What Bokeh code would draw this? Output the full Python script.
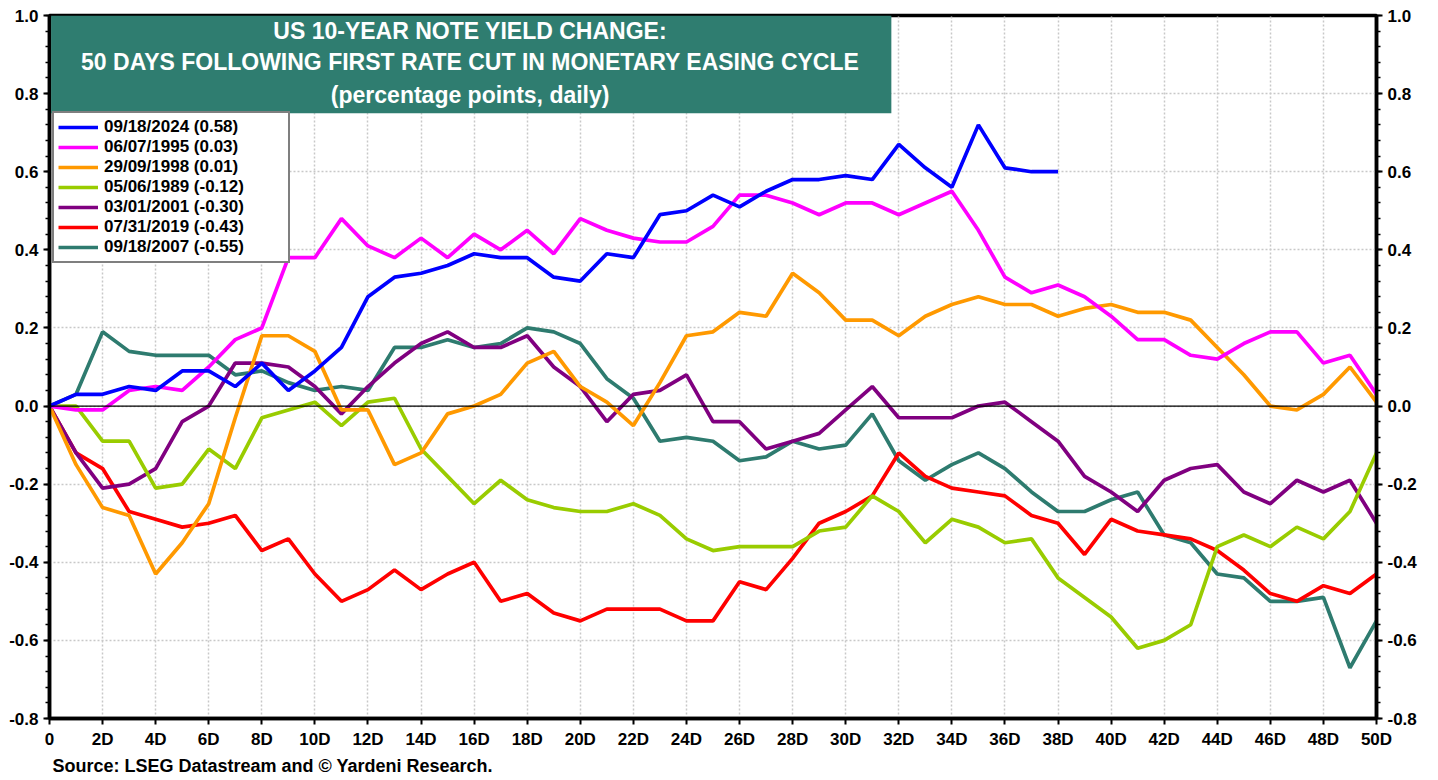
from bokeh.plotting import figure
from bokeh.models import (LinearAxis, SingleIntervalTicker, FixedTicker, NumeralTickFormatter,
                          Legend, LegendItem, BoxAnnotation, Label, Span, Range1d, Title)
from bokeh.embed import file_html
from bokeh.resources import INLINE

days = list(range(51))
x_tick_labels = {d: ("0" if d == 0 else f"{d}D") for d in range(0, 51, 2)}

names = ["09/18/2024 (0.58)", "06/07/1995 (0.03)", "29/09/1998 (0.01)", "05/06/1989 (-0.12)",
         "03/01/2001 (-0.30)", "07/31/2019 (-0.43)", "09/18/2007 (-0.55)"]
colors = ["#0000FF", "#FF00FF", "#FF9900", "#99CC00", "#800080", "#FF0000", "#2E7B6F"]

s2024 = [0, 0.03, 0.03, 0.05, 0.04, 0.09, 0.09, 0.05, 0.11, 0.04, 0.09, 0.15, 0.28, 0.33, 0.34,
         0.36, 0.39, 0.38, 0.38, 0.33, 0.32, 0.39, 0.38, 0.49, 0.50, 0.54, 0.51, 0.55, 0.58, 0.58,
         0.59, 0.58, 0.67, 0.61, 0.56, 0.72, 0.61, 0.60, 0.60]
s1995 = [0, -0.01, -0.01, 0.04, 0.05, 0.04, 0.10, 0.17, 0.20, 0.38, 0.38, 0.48, 0.41, 0.38, 0.43,
         0.38, 0.44, 0.40, 0.45, 0.39, 0.48, 0.45, 0.43, 0.42, 0.42, 0.46, 0.54, 0.54, 0.52, 0.49,
         0.52, 0.52, 0.49, 0.52, 0.55, 0.45, 0.33, 0.29, 0.31, 0.28, 0.23, 0.17, 0.17, 0.13, 0.12,
         0.16, 0.19, 0.19, 0.11, 0.13, 0.03]
s1998 = [0, -0.15, -0.26, -0.28, -0.43, -0.35, -0.25, -0.03, 0.18, 0.18, 0.14, -0.01, -0.01, -0.15,
         -0.12, -0.02, 0.00, 0.03, 0.11, 0.14, 0.05, 0.01, -0.05, 0.06, 0.18, 0.19, 0.24, 0.23, 0.34,
         0.29, 0.22, 0.22, 0.18, 0.23, 0.26, 0.28, 0.26, 0.26, 0.23, 0.25, 0.26, 0.24, 0.24, 0.22,
         0.15, 0.08, 0.00, -0.01, 0.03, 0.10, 0.01]
s1989 = [0, 0.0, -0.09, -0.09, -0.21, -0.20, -0.11, -0.16, -0.03, -0.01, 0.01, -0.05, 0.01, 0.02,
         -0.11, -0.18, -0.25, -0.19, -0.24, -0.26, -0.27, -0.27, -0.25, -0.28, -0.34, -0.37, -0.36,
         -0.36, -0.36, -0.32, -0.31, -0.23, -0.27, -0.35, -0.29, -0.31, -0.35, -0.34, -0.44, -0.49,
         -0.54, -0.62, -0.60, -0.56, -0.36, -0.33, -0.36, -0.31, -0.34, -0.27, -0.12]
s2001 = [0, -0.12, -0.21, -0.20, -0.16, -0.04, 0.00, 0.11, 0.11, 0.10, 0.05, -0.02, 0.05, 0.11,
         0.16, 0.19, 0.15, 0.15, 0.18, 0.10, 0.05, -0.04, 0.03, 0.04, 0.08, -0.04, -0.04, -0.11,
         -0.09, -0.07, -0.01, 0.05, -0.03, -0.03, -0.03, 0.00, 0.01, -0.04, -0.09, -0.18, -0.22,
         -0.27, -0.19, -0.16, -0.15, -0.22, -0.25, -0.19, -0.22, -0.19, -0.30]
s2019 = [0, -0.12, -0.16, -0.27, -0.29, -0.31, -0.30, -0.28, -0.37, -0.34, -0.43, -0.50, -0.47,
         -0.42, -0.47, -0.43, -0.40, -0.50, -0.48, -0.53, -0.55, -0.52, -0.52, -0.52, -0.55, -0.55,
         -0.45, -0.47, -0.39, -0.30, -0.27, -0.23, -0.12, -0.18, -0.21, -0.22, -0.23, -0.28, -0.30,
         -0.38, -0.29, -0.32, -0.33, -0.34, -0.37, -0.42, -0.48, -0.50, -0.46, -0.48, -0.43]
s2007 = [0, 0.03, 0.19, 0.14, 0.13, 0.13, 0.13, 0.08, 0.09, 0.06, 0.04, 0.05, 0.04, 0.15, 0.15,
         0.17, 0.15, 0.16, 0.20, 0.19, 0.16, 0.07, 0.02, -0.09, -0.08, -0.09, -0.14, -0.13, -0.09,
         -0.11, -0.10, -0.02, -0.14, -0.19, -0.15, -0.12, -0.16, -0.22, -0.27, -0.27, -0.24, -0.22,
         -0.33, -0.35, -0.43, -0.44, -0.50, -0.50, -0.49, -0.67, -0.55]
series = [s2024, s1995, s1998, s1989, s2001, s2019, s2007]

title_lines = ["US 10-YEAR NOTE YIELD CHANGE:",
               "50 DAYS FOLLOWING FIRST RATE CUT IN MONETARY EASING CYCLE",
               "(percentage points, daily)"]
source_text = "Source: LSEG Datastream and \u00a9 Yardeni Research."

FONT = "Liberation Sans"

p = figure(width=1438, height=780, x_range=Range1d(0, 50), y_range=Range1d(-0.8, 1.0),
           output_backend="svg", toolbar_location=None,
           min_border_left=49, min_border_right=62, min_border_top=15, min_border_bottom=62)
p.background_fill_color = "white"
p.border_fill_color = "white"
p.outline_line_color = "black"
p.outline_line_width = 3.5

# axes
yticker = SingleIntervalTicker(interval=0.2, num_minor_ticks=5)
xticker = FixedTicker(ticks=list(range(0, 51, 2)))
p.xaxis.ticker = xticker
p.xaxis.major_label_overrides = x_tick_labels
p.yaxis.ticker = yticker
p.yaxis.formatter = NumeralTickFormatter(format="0.0")
right = LinearAxis(ticker=yticker, formatter=NumeralTickFormatter(format="0.0"))
p.add_layout(right, "right")

for ax in [p.xaxis[0], p.yaxis[0], right]:
    ax.axis_line_color = "black"
    ax.axis_line_width = 3.5
    ax.major_tick_line_color = "black"
    ax.major_tick_line_width = 2
    ax.major_tick_out = 6
    ax.major_tick_in = 0
    ax.minor_tick_line_color = "black"
    ax.minor_tick_line_width = 1.5
    ax.minor_tick_out = 4
    ax.minor_tick_in = 0
    ax.major_label_text_font = FONT
    ax.major_label_text_font_style = "bold"
    ax.major_label_text_font_size = "17px"
    ax.major_label_text_color = "black"
    ax.major_label_standoff = 5
p.xaxis.minor_tick_line_color = None

p.xgrid.grid_line_color = "#c8c8c8"
p.xgrid.grid_line_dash = "2 2"
p.xgrid.grid_line_width = 1.5
p.ygrid.grid_line_color = "#c8c8c8"
p.ygrid.grid_line_dash = "2 2"
p.ygrid.grid_line_width = 1.5

p.add_layout(Span(location=0, dimension="width", line_color="black", line_width=1.2))

renderers = []
for s, c in zip(series, colors):
    r = p.line(days[:len(s)], s, line_color=c, line_width=3.7)
    renderers.append(r)
# first series on top
for r in renderers[::-1]:
    p.renderers.remove(r)
    p.renderers.append(r)

# title box
p.add_layout(BoxAnnotation(left=0.06, right=31.72, top=1.0, bottom=0.75,
                           fill_color="#2F7D70", fill_alpha=1.0, line_color=None))
title_y = [0.961, 0.881, 0.796]
for t, yv in zip(title_lines, title_y):
    p.add_layout(Label(x=15.85, y=yv, text=t, text_align="center", text_baseline="middle",
                       text_color="white", text_font=FONT, text_font_style="bold",
                       text_font_size="23px"))

legend = Legend(items=[LegendItem(label=n, renderers=[r]) for n, r in zip(names, renderers)],
                location=(3, 455), padding=4, spacing=0, label_height=20, glyph_height=20,
                glyph_width=40, label_standoff=6, label_width=180, margin=0,
                border_line_color="black", border_line_width=2.5,
                background_fill_color="white", background_fill_alpha=1.0,
                label_text_font=FONT, label_text_font_style="bold",
                label_text_font_size="17px", label_text_color="black")
p.add_layout(legend)

src = Title(text=source_text, align="left", text_color="black", text_font=FONT,
            text_font_style="bold", text_font_size="18px", offset=3, standoff=4)
p.add_layout(src, "below")

open("out.html", "w").write(file_html(p, INLINE))
